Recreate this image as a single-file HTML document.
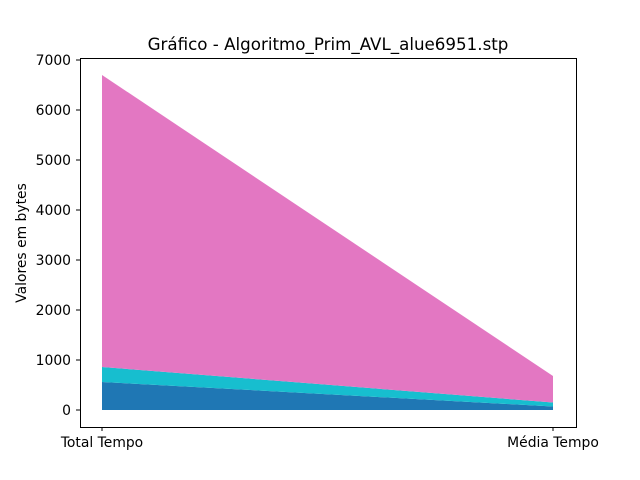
<!DOCTYPE html>
<html><head><meta charset="utf-8"><style>body{margin:0;background:#fff}svg{display:block;font-family:"DejaVu Sans","Liberation Sans",sans-serif}</style></head>
<body>
<svg id="chart" width="640" height="480">
<rect x="0" y="0" width="640" height="480" fill="#fff"/>
<text x="328" y="50" text-anchor="middle" font-size="16.7">Gráfico - Algoritmo_Prim_AVL_alue6951.stp</text>
<g id="areas"></g>
<rect x="80.5" y="58.5" width="496" height="369" fill="none" stroke="#000" stroke-width="1"/>
<g id="axes" font-size="13.9"></g>
<text transform="translate(26,243) rotate(-90)" text-anchor="middle" font-size="13.9">Valores em bytes</text>
</svg>
<script>
const categories = ["Total Tempo", "Média Tempo"];
const seriesBlue = [560, 70];
const seriesCyan = [300, 80];
const seriesPink = [5840, 530];
const yTicks = [0, 1000, 2000, 3000, 4000, 5000, 6000, 7000];
const series = [seriesBlue, seriesCyan, seriesPink];
const colors = ["#1f77b4", "#17becf", "#e377c2"];
const names = ["area-series-1", "area-series-2", "area-series-3"];
const NS = "http://www.w3.org/2000/svg";
function xs(i){ return 102 + i * (553 - 102) / (categories.length - 1); }
function ys(v){ return 410 - v * 0.05; }
const areas = document.getElementById("areas");
let base = categories.map(() => 0);
series.forEach((s, k) => {
  const top = s.map((v, i) => base[i] + v);
  let pts = top.map((v, i) => xs(i) + "," + ys(v));
  for (let i = categories.length - 1; i >= 0; i--) pts.push(xs(i) + "," + ys(base[i]));
  const p = document.createElementNS(NS, "polygon");
  p.setAttribute("points", pts.join(" "));
  p.setAttribute("fill", colors[k]);
  
  
  areas.appendChild(p);
  base = top;
});
const axes = document.getElementById("axes");
yTicks.forEach(t => {
  const y = ys(t);
  const l = document.createElementNS(NS, "line");
  l.setAttribute("x1", 76); l.setAttribute("x2", 80); l.setAttribute("y1", y); l.setAttribute("y2", y);
  l.setAttribute("stroke", "#000");
  
  
  axes.appendChild(l);
  const tx = document.createElementNS(NS, "text");
  tx.setAttribute("x", 71); tx.setAttribute("y", y + 5); tx.setAttribute("text-anchor", "end");
  tx.textContent = t;
  
  
  axes.appendChild(tx);
});
categories.forEach((c, i) => {
  const x = xs(i);
  const l = document.createElementNS(NS, "line");
  l.setAttribute("x1", x); l.setAttribute("x2", x); l.setAttribute("y1", 427); l.setAttribute("y2", 431);
  l.setAttribute("stroke", "#000");
  
  
  axes.appendChild(l);
  const tx = document.createElementNS(NS, "text");
  tx.setAttribute("x", x); tx.setAttribute("y", 447); tx.setAttribute("text-anchor", "middle");
  tx.textContent = c;
  
  
  axes.appendChild(tx);
});
</script>
</body></html>
